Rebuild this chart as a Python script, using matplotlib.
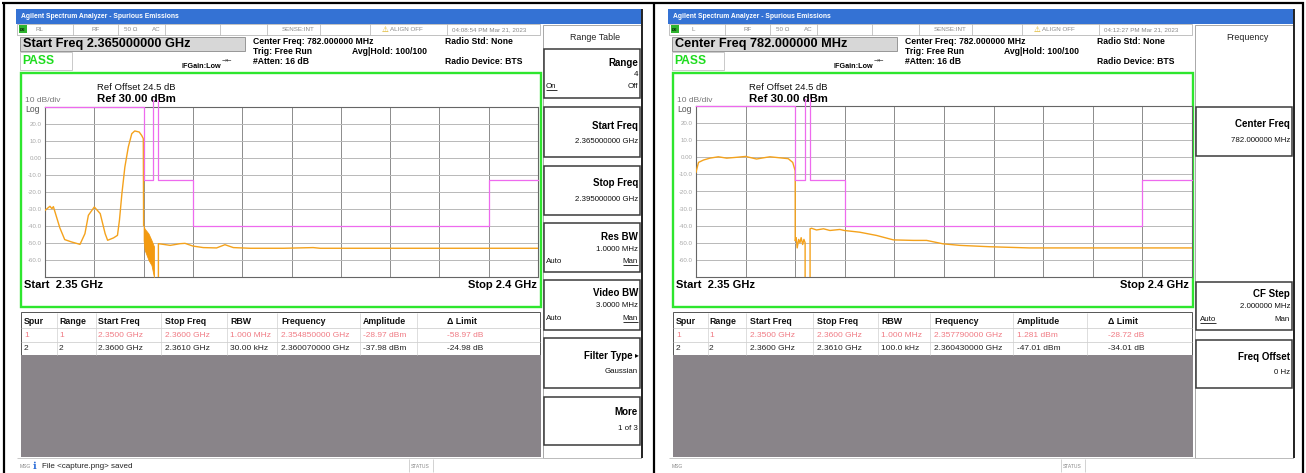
import matplotlib
matplotlib.use("Agg")
import matplotlib.pyplot as plt
from matplotlib.patches import Rectangle

plt.rcParams['font.family'] = ['Liberation Sans', 'DejaVu Sans']

W, H = 1306, 473

# ---------------- data ----------------
x_range_mhz = [2350, 2400]
y_range_dbm = [-70, 30]
x_grid_mhz = [2355, 2360, 2365, 2370, 2375, 2380, 2385, 2390, 2395]
ytick_values = [20, 10, 0, -10, -20, -30, -40, -50, -60]
ytick_labels = ["20.0", "10.0", "0.00", "-10.0", "-20.0", "-30.0", "-40.0", "-50.0", "-60.0"]

# limit lines (same on both screens)
limit_a_f = [2350, 2360, 2360, 2361, 2361]
limit_a_db = [30, 30, -13, -13, 34]
limit_b_f = [2361.5, 2361.5, 2365, 2365, 2395, 2395, 2400]
limit_b_db = [34, -13, -13, -40, -40, -13, -13]

# left screen trace
left_r1_f = [2350.0, 2350.5, 2350.7, 2350.85, 2351.5, 2352.0, 2352.7, 2353.55, 2354.05, 2354.4,
             2355.0, 2355.6, 2356.1, 2356.35, 2356.95, 2357.35, 2357.55, 2357.8, 2358.1, 2358.45,
             2358.8, 2359.1, 2359.55, 2359.8, 2359.97, 2360.0]
left_r1_db = [-30.8, -28.4, -29.8, -28.6, -41.0, -48.0, -49.4, -50.8, -44.5, -33.7,
              -28.8, -32.7, -44.5, -48.4, -47.0, -45.5, -36.6, -20.9, -5.3, 6.5,
              14.3, 15.9, 15.3, 13.3, 11.4, -39.6]
left_noise_f = [2360.0, 2360.1, 2360.3, 2360.5, 2360.8, 2361.05]
left_noise_hi = [-39.6, -41.6, -43.0, -44.5, -48.4, -52.0]
left_noise_lo = [-48.4, -54.0, -57.0, -60.0, -63.0, -70.0]
left_r3_f = [2361.5, 2361.5, 2362.0, 2362.7, 2363.7, 2364.2, 2365.0, 2366.05, 2367.4, 2368.25,
             2369.1, 2370.8, 2374.2, 2377.2, 2377.9, 2385.0, 2400.0]
left_r3_db = [-70, -50.4, -50.8, -51.4, -50.4, -50.2, -51.8, -52.7, -52.9, -51.0,
              -52.7, -53.1, -53.1, -52.7, -53.1, -53.1, -53.1]

# right screen trace
right_r1_f = [2350.0, 2350.25, 2350.75, 2351.4, 2352.25, 2353.1, 2354.1, 2355.0, 2356.1, 2356.8,
              2357.45, 2358.45, 2359.3, 2359.75, 2360.0, 2360.0]
right_r1_db = [-8.8, -3.0, -1.6, -0.5, 0.3, -0.5, 0.0, 0.5, -1.0, -0.3,
               0.3, -0.3, -0.8, -3.0, -7.9, -48.6]
right_r2_f = [2360.0, 2360.1, 2360.2, 2360.35, 2360.48, 2360.6, 2360.75, 2360.88, 2361.0, 2361.0]
right_r2_db = [-48.6, -47.0, -53.0, -48.0, -50.0, -47.0, -51.0, -48.0, -50.0, -70.0]
right_r3_f = [2361.5, 2361.5, 2361.65, 2362.15, 2362.85, 2363.5, 2364.5, 2364.95, 2366.5, 2368.2,
              2369.9, 2371.9, 2373.25, 2374.9, 2376.6, 2379.6, 2383.6, 2400.0]
right_r3_db = [-70, -41.8, -41.5, -42.5, -41.8, -42.8, -42.2, -42.8, -43.8, -45.7,
               -48.3, -48.6, -48.6, -50.6, -51.5, -52.3, -53.0, -53.0]

table_header = ["Spur", "Range", "Start Freq", "Stop Freq", "RBW", "Frequency", "Amplitude", "\u0394 Limit"]
left_rows = [["1", "1", "2.3500 GHz", "2.3600 GHz", "1.000 MHz", "2.354850000 GHz", "-28.97 dBm", "-58.97 dB"],
             ["2", "2", "2.3600 GHz", "2.3610 GHz", "30.00 kHz", "2.360070000 GHz", "-37.98 dBm", "-24.98 dB"]]
right_rows = [["1", "1", "2.3500 GHz", "2.3600 GHz", "1.000 MHz", "2.357790000 GHz", "1.281 dBm", "-28.72 dB"],
              ["2", "2", "2.3600 GHz", "2.3610 GHz", "100.0 kHz", "2.360430000 GHz", "-47.01 dBm", "-34.01 dB"]]

ORANGE = '#f4a21c'
PINK = '#ee6aee'
GREEN = '#2ee62e'

fig = plt.figure(figsize=(W / 100, H / 100), dpi=100)
bg = fig.add_axes([0, 0, 1, 1])
bg.set_xlim(0, W)
bg.set_ylim(H, 0)
bg.axis('off')


def T(x, y, s, size=6, color='black', weight='normal', ha='left', va='center', **kw):
    return bg.text(x, y, s, fontsize=size, color=color, fontweight=weight, ha=ha, va=va, **kw)


def rect(x, y, w, h, fc='none', ec='none', lw=0.8, z=1):
    bg.add_patch(Rectangle((x, y), w, h, facecolor=fc, edgecolor=ec, linewidth=lw, zorder=z))


def hline(y, x0, x1, c, lw=0.8, z=2):
    bg.plot([x0, x1], [y, y], color=c, lw=lw, zorder=z, solid_capstyle='butt')


def vline(x, y0, y1, c, lw=0.8, z=2):
    bg.plot([x, x], [y0, y1], color=c, lw=lw, zorder=z, solid_capstyle='butt')


underlines = []


def screen(dx, info):
    # title bar
    rect(16 + dx, 9, 626, 15, fc='#3472d4')
    T(21 + dx, 16.5, 'Agilent Spectrum Analyzer - Spurious Emissions', 4.9, 'white', 'bold', zorder=3)
    # status row
    rect(17 + dx, 24, 523, 11, fc='white', ec='#a8a8a8', lw=0.5)
    rect(19 + dx, 25.5, 8, 8, fc='#2fb52f', z=3)
    T(19.6 + dx, 29.6, 'LXI', 2.4, 'black', 'bold', zorder=4)
    for sx in [73, 118, 165, 220, 267, 320, 370, 447]:
        vline(sx + dx, 24, 35, '#b0b0b0', 0.5)
    st_c = '#8a8a8a'
    T(info['mode_x'] + dx, 29.5, info['mode'], 4.5, st_c)
    T(91 + dx, 29.5, 'RF', 4.5, st_c)
    T(124 + dx, 29.5, '50 \u03a9', 4.5, st_c)
    T(152 + dx, 29.5, 'AC', 4.5, st_c)
    T(315 + dx, 29.5, 'SENSE:INT', 4.5, st_c, ha='right')
    T(382 + dx, 29.2, '\u26a0', 5.5, '#d8a800', family='DejaVu Sans')
    T(390 + dx, 29.5, 'ALIGN OFF', 4.5, st_c)
    T(452 + dx, 29.5, info['time'], 4.5, st_c)
    # big title box
    rect(20 + dx, 37, 225, 14, fc='#d7d7d7', ec='#8a8a8a', lw=0.6)
    T(23 + dx, 44.2, info['title'], 9.2, 'black', 'bold')
    rect(20 + dx, 52, 52, 18, fc='white', ec='#c0c0c0', lw=0.6)
    T(22 + dx, 61, 'PASS', 8.7, '#1edc1e', 'bold')
    T(181 + dx, 66.5, 'IFGain:Low', 5.2, 'black', 'bold')
    T(222 + dx, 59.5, '\u2192\u2190', 4.5, '#333', family='DejaVu Sans')
    T(253 + dx, 42, 'Center Freq: 782.000000 MHz', 6.2, 'black', 'bold')
    T(253 + dx, 51.5, 'Trig: Free Run', 6.2, 'black', 'bold')
    T(253 + dx, 61, '#Atten: 16 dB', 6.2, 'black', 'bold')
    T(352 + dx, 51.5, 'Avg|Hold: 100/100', 6.2, 'black', 'bold')
    T(445 + dx, 42, 'Radio Std: None', 6.2, 'black', 'bold')
    T(445 + dx, 62, 'Radio Device: BTS', 6.2, 'black', 'bold')
    # green frame
    rect(21 + dx, 73, 520, 234, ec=GREEN, lw=1.7, z=4)
    T(97 + dx, 88, 'Ref Offset 24.5 dB', 6.8, '#111')
    T(97 + dx, 99, 'Ref 30.00 dBm', 8.2, 'black', 'bold')
    T(25 + dx, 100, '10 dB/div', 6.0, '#777')
    T(25 + dx, 109.5, 'Log', 6.2, '#555')
    T(24 + dx, 285, 'Start  2.35 GHz', 8.0, 'black', 'bold')
    T(537 + dx, 285, 'Stop 2.4 GHz', 8.0, 'black', 'bold', ha='right')
    # table
    rect(21 + dx, 312, 519, 43, fc='white', ec='#555555', lw=0.7)
    hline(328, 21 + dx, 540 + dx, '#c8c8c8', 0.5)
    hline(341.5, 21 + dx, 540 + dx, '#c8c8c8', 0.5)
    for sx in info['col_sep']:
        vline(sx, 313, 355, '#d0d0d0', 0.5)
    for cx, h in zip(info['col_x'], table_header):
        T(cx, 321.5, h, 6.3, '#111', 'bold')
    for ri, (row, ry) in enumerate(zip(info['rows'], [335, 348.5])):
        col = '#f07b84' if ri == 0 else '#222'
        for cx, s in zip(info['col_x'], row):
            T(cx, ry, s, 6.0, col)
    rect(21 + dx, 355, 520, 102, fc='#898489')
    # bottom status bar
    hline(458, 17 + dx, 641 + dx, '#c0c0c0', 0.6)
    T(20 + dx, 466.5, 'MSG', 3.6, '#888')
    T(411 + dx, 466.5, 'STATUS', 3.6, '#888')
    vline(409 + dx, 459, 472, '#c0c0c0', 0.5)
    vline(433 + dx, 459, 472, '#c0c0c0', 0.5)
    if info.get('msg'):
        T(33 + dx, 465.5, '\u2139', 7, '#2f6fd8', 'bold', family='DejaVu Sans')
        T(42 + dx, 466.5, info['msg'], 5.8, '#222')
    # softkey panel
    px0, px1 = 543 + dx, 641 + dx
    rect(px0, 25, px1 - px0, 433, fc='white', ec='#9a9a9a', lw=0.6)
    vline(641.5 + dx, 9, 458, '#222222', 1.4, z=5)
    T((px0 + px1) / 2 + 3, 37.5, info['sk_title'], 6.4, '#222', ha='center')
    for (y0, y1) in info['sk_boxes']:
        rect(px0 + 0.5, y0, px1 - px0 - 1.5, y1 - y0, fc='white', ec='#3a3a3a', lw=1.1, z=2)
    for item in info['sk_text']:
        x, y, s, kind = item[:4]
        ul = len(item) > 4 and item[4]
        if kind == 'b':
            t = T(x + dx, y, s, 7.0, 'black', 'bold', ha='right', zorder=3)
        elif kind == 'r':
            t = T(x + dx, y, s, 5.7, '#111', ha='right', zorder=3)
        else:
            t = T(x + dx, y, s, 5.7, '#111', ha='left', zorder=3)
        if ul:
            underlines.append(t)


def panel(x0, x1, y0, y1, traces, fills):
    ax = fig.add_axes([x0 / W, 1 - y1 / H, (x1 - x0) / W, (y1 - y0) / H])
    ax.set_xlim(*x_range_mhz)
    ax.set_ylim(*y_range_dbm)
    ax.set_xticks(x_grid_mhz)
    ax.set_xticklabels([])
    ax.set_yticks(ytick_values)
    ax.set_yticklabels(ytick_labels, fontsize=4.4, color='#a8a8a8')
    ax.tick_params(length=0, pad=2.2)
    ax.xaxis.grid(True, color='#8c8c8c', lw=0.7)
    ax.yaxis.grid(True, color='#b8b8b8', lw=0.7)
    ax.set_axisbelow(True)
    for s in ax.spines.values():
        s.set_color('#666666')
        s.set_linewidth(0.8)
    for f, lo, hi in fills:
        ax.fill_between(f, lo, hi, color='#f39a10', lw=0.6, zorder=3)
    for f, d in traces:
        ax.plot(f, d, color=ORANGE, lw=1.0, zorder=4)
    ax.plot(limit_a_f, limit_a_db, color=PINK, lw=0.9, zorder=5, clip_on=False)
    ax.plot(limit_b_f, limit_b_db, color=PINK, lw=0.9, zorder=5, clip_on=False)
    return ax


left_info = dict(
    mode='RL', mode_x=36, time='04:08:54 PM Mar 21, 2023', title='Start Freq 2.365000000 GHz',
    col_x=[24, 59, 98, 165, 230, 281, 363, 447],
    col_sep=[57, 96, 161, 227, 277, 360, 417],
    rows=left_rows, msg='File <capture.png> saved', sk_title='Range Table',
    sk_boxes=[(49, 98), (107, 157), (166, 215), (223, 272), (280, 330), (338, 388), (397, 445)],
    sk_text=[(638, 63, 'Range', 'b'), (638, 74.5, '4', 'r'), (546, 86.5, 'On', 'l', True), (638, 86.5, 'Off', 'r'),
             (638, 126, 'Start Freq', 'b'), (638, 141.5, '2.365000000 GHz', 'r'),
             (638, 183, 'Stop Freq', 'b'), (638, 199, '2.395000000 GHz', 'r'),
             (638, 237, 'Res BW', 'b'), (638, 249, '1.0000 MHz', 'r'), (546, 261, 'Auto', 'l'), (638, 261, 'Man', 'r', True),
             (638, 293, 'Video BW', 'b'), (638, 305, '3.0000 MHz', 'r'), (546, 318, 'Auto', 'l'), (638, 318, 'Man', 'r', True),
             (633, 356, 'Filter Type', 'b'), (638, 371, 'Gaussian', 'r'),
             (638, 412, 'More', 'b'), (638, 428, '1 of 3', 'r')])

right_info = dict(
    mode='L', mode_x=39, time='04:12:27 PM Mar 21, 2023', title='Center Freq 782.000000 MHz',
    col_x=[676, 709, 750, 817, 881, 934, 1017, 1108],
    col_sep=[708, 746, 813, 878, 930, 1013, 1087],
    rows=right_rows, msg=None, sk_title='Frequency',
    sk_boxes=[(107, 156), (282, 330), (340, 388)],
    sk_text=[(638, 124, 'Center Freq', 'b'), (638, 140, '782.000000 MHz', 'r'),
             (638, 294, 'CF Step', 'b'), (638, 306, '2.000000 MHz', 'r'), (548, 319, 'Auto', 'l', True), (638, 319, 'Man', 'r'),
             (638, 357, 'Freq Offset', 'b'), (638, 372, '0 Hz', 'r')])

screen(0, left_info)
screen(652, right_info)
T(635, 355, '\u25b8', 5.5, 'black', family='DejaVu Sans', zorder=3)

panel(45, 538, 107, 277,
      [(left_r1_f, left_r1_db), (left_r3_f, left_r3_db)],
      [(left_noise_f, left_noise_lo, left_noise_hi)])
panel(696, 1192, 106, 277,
      [(right_r1_f, right_r1_db), (right_r2_f, right_r2_db), (right_r3_f, right_r3_db)],
      [])

# outer table borders
hline(3.5, 2, 1304, 'black', 1.6, z=6)
for bx in [3.5, 653.5, 1302.5]:
    vline(bx, 2, 473, 'black', 1.6, z=6)

# underlines for selected softkey options
fig.canvas.draw()
inv = bg.transData.inverted()
for t in underlines:
    bb = t.get_window_extent()
    (xa, ya), (xb, yb) = inv.transform([(bb.x0, bb.y0), (bb.x1, bb.y1)])
    hline(max(ya, yb) + 0.3, xa, xb, '#111', 0.6, z=4)

fig.savefig('out.png', dpi=100)
